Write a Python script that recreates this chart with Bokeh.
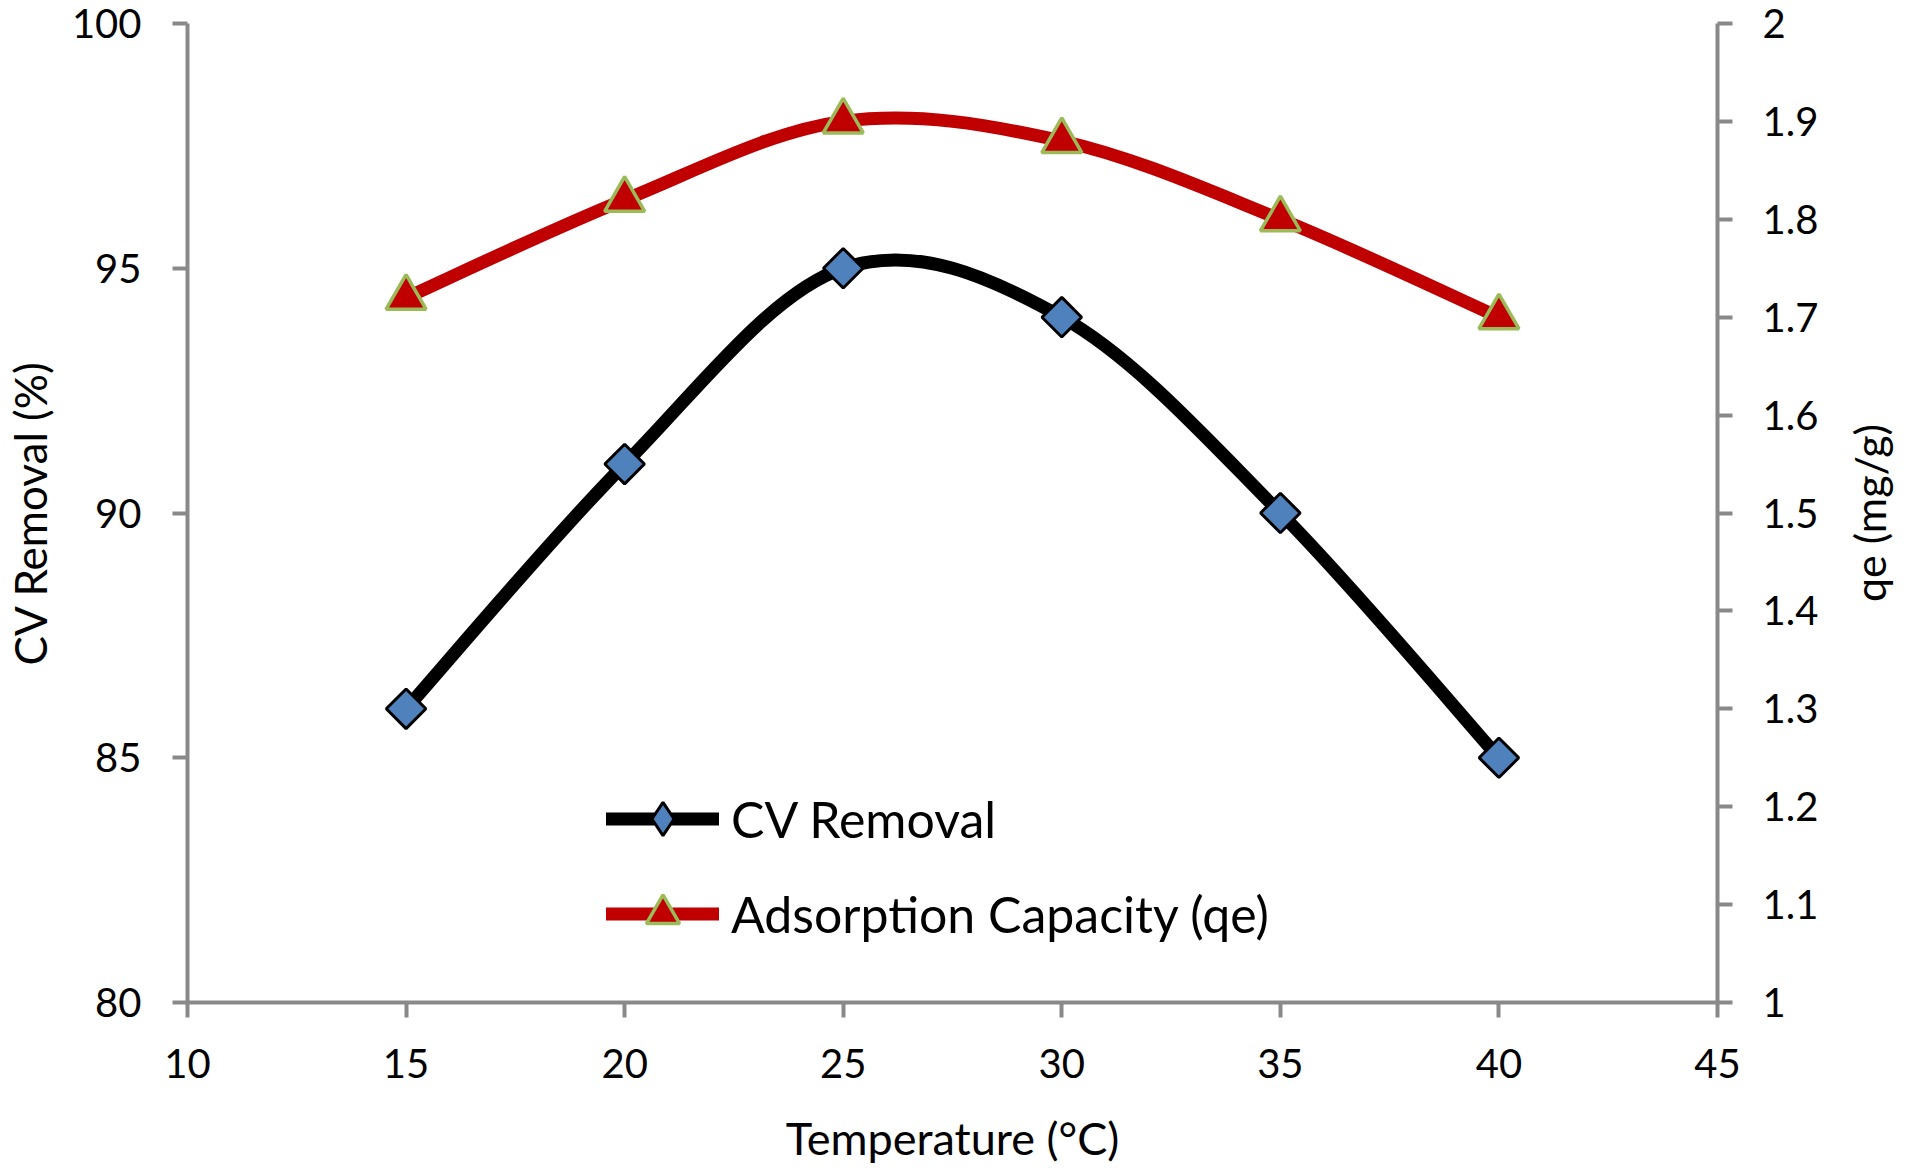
import math

from bokeh.embed import file_html
from bokeh.models import (CDSView, ColumnDataSource, FixedTicker, IndexFilter, Label,
                          Legend, LegendItem, LinearAxis, NumeralTickFormatter, Range1d)
from bokeh.plotting import figure
from bokeh.resources import INLINE

# Temperature series and the two measured responses
temperature = [15, 20, 25, 30, 35, 40]
cv_removal = [86, 91, 95, 94, 90, 85]          # %
qe = [1.72, 1.82, 1.90, 1.88, 1.80, 1.70]      # mg/g

x_ticks = [10, 15, 20, 25, 30, 35, 40, 45]
left_ticks = [80, 85, 90, 95, 100]
right_ticks = [1, 1.1, 1.2, 1.3, 1.4, 1.5, 1.6, 1.7, 1.8, 1.9, 2]

FONT = "Lato"
AXIS_GREY = "#898989"
CV_FILL = "#4F81BD"
QE_RED = "#C00000"
QE_EDGE = "#9BBB59"

# frame geometry (px)
FRAME_LEFT, FRAME_RIGHT = 187, 1717
X_LO, X_HI = 10, 45


def smooth_segments(xs, ys):
    """Cubic Bezier pieces through every point (Catmull-Rom, 1/6 tension)."""
    n = len(xs)
    seg = dict(x0=[], y0=[], x1=[], y1=[], cx0=[], cy0=[], cx1=[], cy1=[])
    for i in range(n - 1):
        xp, yp = (xs[i - 1], ys[i - 1]) if i > 0 else (xs[i], ys[i])
        xn, yn = (xs[i + 2], ys[i + 2]) if i + 2 < n else (xs[i + 1], ys[i + 1])
        seg["x0"].append(xs[i])
        seg["y0"].append(ys[i])
        seg["x1"].append(xs[i + 1])
        seg["y1"].append(ys[i + 1])
        seg["cx0"].append(xs[i] + (xs[i + 1] - xp) / 6)
        seg["cy0"].append(ys[i] + (ys[i + 1] - yp) / 6)
        seg["cx1"].append(xs[i + 1] - (xn - xs[i]) / 6)
        seg["cy1"].append(ys[i + 1] - (yn - ys[i]) / 6)
    return seg


p = figure(width=1912, height=1170, output_backend="svg", toolbar_location=None,
           x_range=Range1d(X_LO, X_HI), y_range=Range1d(80, 100),
           min_border_left=FRAME_LEFT, min_border_right=1912 - FRAME_RIGHT,
           min_border_top=23, min_border_bottom=168)
p.extra_y_ranges = {"qe": Range1d(1, 2)}
p.outline_line_color = None
p.grid.visible = False
p.background_fill_color = "white"
p.border_fill_color = "white"

right_axis = LinearAxis(y_range_name="qe")
p.add_layout(right_axis, "right")

p.xaxis.ticker = FixedTicker(ticks=x_ticks)
p.yaxis[0].ticker = FixedTicker(ticks=left_ticks)
right_axis.ticker = FixedTicker(ticks=right_ticks)
right_axis.formatter = NumeralTickFormatter(format="0.[0]")

p.xaxis.axis_label = "Temperature (°C)"
p.yaxis[0].axis_label = "CV Removal (%)"

for ax in (p.xaxis[0], p.yaxis[0], right_axis):
    ax.axis_line_color = AXIS_GREY
    ax.axis_line_width = 4
    ax.major_tick_line_color = AXIS_GREY
    ax.major_tick_line_width = 4
    ax.major_tick_out = 15
    ax.major_tick_in = 0
    ax.minor_tick_line_color = None
    ax.major_label_text_font = FONT
    ax.major_label_text_font_size = "40px"
    ax.major_label_text_color = "black"
    ax.axis_label_text_font = FONT
    ax.axis_label_text_font_style = "normal"
    ax.axis_label_text_font_size = "45px"
    ax.axis_label_text_color = "black"

p.yaxis[0].axis_label_text_font_size = "44px"

p.xaxis.major_label_standoff = 31
p.xaxis.axis_label_standoff = 30
p.yaxis[0].major_label_standoff = 31
p.yaxis[0].axis_label_standoff = 13
right_axis.major_label_standoff = 30

# right-hand axis title, reading bottom-to-top like the left one
px_per_x = (FRAME_RIGHT - FRAME_LEFT) / (X_HI - X_LO)
qe_title = Label(x=X_HI + 152 / px_per_x, y=1.5, y_range_name="qe",
                 text="qe (mg/g)", angle=math.pi / 2,
                 text_align="center", text_baseline="middle",
                 text_font=FONT, text_font_size="43px", text_color="black")
p.add_layout(qe_title, "right")

cv_src = ColumnDataSource(smooth_segments(temperature, cv_removal))
qe_src = ColumnDataSource(smooth_segments(temperature, qe))

cv_curve = p.bezier(x0="x0", y0="y0", x1="x1", y1="y1", cx0="cx0", cy0="cy0",
                    cx1="cx1", cy1="cy1", source=cv_src,
                    line_color="black", line_width=13, line_cap="round")
qe_curve = p.bezier(x0="x0", y0="y0", x1="x1", y1="y1", cx0="cx0", cy0="cy0",
                    cx1="cx1", cy1="cy1", source=qe_src, y_range_name="qe",
                    line_color=QE_RED, line_width=13, line_cap="round")

# legend swatch for the CV series: an upright diamond, kept under the first point
cv_key = p.scatter(temperature, cv_removal, marker="diamond", size=1,
                   fill_color=CV_FILL, line_color="black", line_width=3,
                   view=CDSView(filter=IndexFilter(indices=[0])))

cv_pts = p.scatter(temperature, cv_removal, marker="square", angle=math.pi / 4,
                   size=28, fill_color=CV_FILL, line_color="black", line_width=3)
qe_pts = p.scatter(temperature, qe, marker="triangle", y_range_name="qe",
                   size=40, fill_color=QE_RED, line_color=QE_EDGE, line_width=3.5)

legend = Legend(
    items=[LegendItem(label="CV Removal", renderers=[cv_curve, cv_key]),
           LegendItem(label="Adsorption Capacity (qe)", renderers=[qe_curve, qe_pts])],
    location=(419, 47), orientation="vertical",
    border_line_color=None, background_fill_alpha=0,
    padding=0, margin=0, spacing=12,
    glyph_width=113, glyph_height=83, label_standoff=12,
    label_text_font=FONT, label_text_font_size="50px", label_text_color="black",
)
p.add_layout(legend)

open("out.html", "w").write(file_html(p, INLINE))
